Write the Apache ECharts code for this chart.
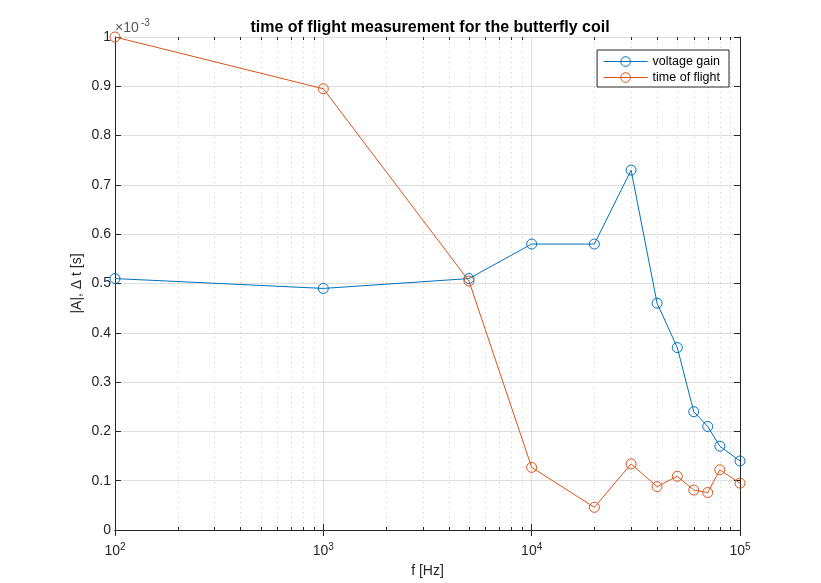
<!DOCTYPE html>
<html>
<head>
<meta charset="utf-8">
<script src="https://cdn.jsdelivr.net/npm/echarts@6/dist/echarts.min.js"></script>
<style>
  html, body { margin: 0; padding: 0; background: #fff; }
  #chart { width: 821px; height: 583px; }
</style>
</head>
<body>
<div id="chart"></div>
<script>
// Measurement frequencies [Hz]
const freqs = [100, 1000, 5000, 10000, 20000, 30000, 40000, 50000, 60000, 70000, 80000, 100000];
// Voltage gain |A| (x 1e-3)
const voltageGain = [0.51, 0.49, 0.51, 0.58, 0.58, 0.73, 0.46, 0.37, 0.24, 0.21, 0.17, 0.14];
// Time of flight Δt [s] (x 1e-3)
const timeOfFlight = [1.0, 0.895, 0.505, 0.127, 0.046, 0.134, 0.088, 0.109, 0.081, 0.076, 0.122, 0.095];
// Minor log gridline positions
const minorTicks = [];
[100, 1000, 10000].forEach(d => { for (let k = 2; k <= 9; k++) minorTicks.push(d * k); });

const FONT = 'Liberation Sans, Arial, Helvetica, sans-serif';
const AXIS = '#262626';
const BLUE = '#0072BD';
const ORANGE = '#D95319';

const chart = echarts.init(document.getElementById('chart'), null, { renderer: 'canvas' });

const supFmt = v => {
  const e = Math.round(Math.log10(v));
  return '{b|10}{s|' + e + '}';
};

const lineSeries = (name, values, color) => ({
  name,
  type: 'line',
  data: freqs.map((f, i) => [f, values[i]]),
  symbol: 'circle', symbolSize: 10,
  showAllSymbol: true,
  lineStyle: { color, width: 1 },
  itemStyle: { color: 'rgba(255,255,255,0)', borderColor: color, borderWidth: 1 },
  emphasis: { disabled: true },
  z: 3
});

const option = {
  backgroundColor: '#fff',
  animation: false,
  textStyle: { fontFamily: FONT },
  title: {
    text: 'time of flight measurement for the butterfly coil',
    left: 425, top: 15, textAlign: 'center',
    textStyle: { fontFamily: FONT, fontSize: 16, fontWeight: 'bold', color: '#000' }
  },
  legend: {
    right: 92, top: 50,
    orient: 'vertical',
    backgroundColor: '#fff',
    borderColor: AXIS, borderWidth: 1, borderRadius: 0,
    padding: [5, 9, 3, 6],
    itemGap: 3,
    itemWidth: 44, itemHeight: 12,
    lineStyle: { width: 1 },
    itemStyle: { borderWidth: 1 },
    textStyle: { fontFamily: FONT, fontSize: 12.5, color: '#000' },
    data: ['voltage gain', 'time of flight']
  },
  grid: { left: 115, right: 81, top: 37, bottom: 52, containLabel: false },
  xAxis: [{
    type: 'log', logBase: 10, min: 100, max: 100000,
    name: 'f [Hz]', nameLocation: 'middle', nameGap: 34,
    nameTextStyle: { fontFamily: FONT, fontSize: 14, color: '#262626' },
    axisLine: { lineStyle: { color: AXIS, width: 1 } },
    axisTick: { inside: true, length: 6, lineStyle: { color: AXIS } },
    axisLabel: {
      margin: 8, formatter: supFmt,
      rich: {
        b: { fontFamily: FONT, fontSize: 14, color: '#262626', padding: [6, 0, 0, 0] },
        s: { fontFamily: FONT, fontSize: 10, color: '#262626', padding: [0, 0, 2, 0] }
      }
    },
    splitLine: { show: true, lineStyle: { color: '#dedede', width: 1 } }
  }, {
    type: 'log', logBase: 10, min: 100, max: 100000, position: 'top',
    axisLine: { lineStyle: { color: AXIS, width: 1 } },
    axisTick: { inside: true, length: 6, lineStyle: { color: AXIS } },
    axisLabel: { show: false },
    splitLine: { show: false }
  }],
  yAxis: [{
    type: 'value', min: 0, max: 1, interval: 0.1,
    name: '|A|, Δ t [s]', nameLocation: 'middle', nameGap: 31, nameRotate: 90,
    nameMoveOverlap: false,
    nameTextStyle: { fontFamily: FONT, fontSize: 14, color: '#262626' },
    axisLine: { show: true, lineStyle: { color: AXIS, width: 1 } },
    axisTick: { show: true, inside: true, length: 6, lineStyle: { color: AXIS } },
    axisLabel: {
      margin: 4, fontFamily: FONT, fontSize: 14, color: '#262626',
      formatter: v => String(Math.round(v * 10) / 10)
    },
    splitLine: { show: true, lineStyle: { color: '#dedede', width: 1 } }
  }, {
    type: 'value', min: 0, max: 1, interval: 0.1, position: 'right',
    axisLine: { show: true, lineStyle: { color: AXIS, width: 1 } },
    axisTick: { show: true, inside: true, length: 6, lineStyle: { color: AXIS } },
    axisLabel: { show: false },
    splitLine: { show: false }
  }],
  graphic: [{
    type: 'text', left: 115, top: 21,
    style: { text: '×10', fontFamily: FONT, fontSize: 14, fill: '#555' }
  }, {
    type: 'text', left: 141, top: 18,
    style: { text: '-3', fontFamily: FONT, fontSize: 10, fill: '#555' }
  }],
  series: [{
    // minor log gridlines and tick marks
    type: 'custom',
    silent: true,
    xAxisIndex: 0, yAxisIndex: 0,
    z: 1,
    data: minorTicks.map(v => [v, 0]),
    renderItem: (params, api) => {
      const x = Math.round(api.coord([api.value(0), 0])[0]) + 0.5;
      const cs = params.coordSys;
      const top = cs.y, bot = cs.y + cs.height;
      return {
        type: 'group',
        children: [{
          type: 'line',
          shape: { x1: x, y1: top, x2: x, y2: bot },
          style: { stroke: '#cfcfcf', lineWidth: 1, lineDash: [1, 4] }
        }, {
          type: 'line',
          shape: { x1: x, y1: bot, x2: x, y2: bot - 3 },
          style: { stroke: AXIS, lineWidth: 1 }
        }, {
          type: 'line',
          shape: { x1: x, y1: top, x2: x, y2: top + 3 },
          style: { stroke: AXIS, lineWidth: 1 }
        }]
      };
    }
  },
  lineSeries('voltage gain', voltageGain, BLUE),
  lineSeries('time of flight', timeOfFlight, ORANGE)
  ]
};

chart.setOption(option);
</script>
</body>
</html>
